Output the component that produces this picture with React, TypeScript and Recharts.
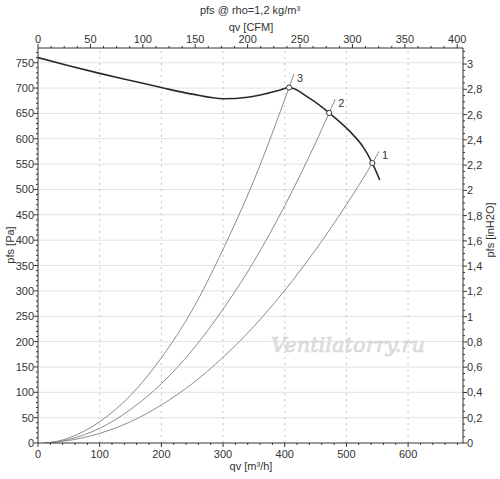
import React from "react";
import { ComposedChart, Line, Scatter, XAxis, YAxis, ReferenceLine } from "recharts";

// fan curve, qv [m³/h] -> pfs [Pa]
const fanQ = [0, 50, 100, 150, 200, 250, 300, 340, 370, 390, 407, 440, 472, 506, 527, 542, 554];
const fanP = [760, 744, 729, 715, 701, 688, 679, 682, 689, 695, 701, 680, 651, 614, 584, 552, 519];

// system curves (last point = end of the label stroke)
const sys1Q = [10, 30, 50, 100, 150, 200, 250, 300, 350, 400, 450, 500, 542, 553];
const sys1P = [0, 2, 5, 19, 42, 75, 117, 169, 230, 301, 381, 470, 552, 575];
const sys2Q = [10, 30, 50, 100, 150, 200, 250, 300, 350, 400, 450, 472, 482];
const sys2P = [0, 2, 7, 29, 66, 117, 183, 264, 358, 468, 592, 651, 678];
const sys3Q = [10, 30, 50, 100, 150, 200, 250, 300, 350, 407, 415];
const sys3P = [0, 3, 10, 42, 94, 168, 262, 382, 518, 701, 728];

const opQ = [542, 472, 407];
const opP = [552, 651, 701];
const opLabels = ["1", "2", "3"];

// axes
const qMax = 689;
const cfmMax = 405.5;
const paMax = 779;
const inMax = 3.127;
const qMajor = [0, 100, 200, 300, 400, 500, 600];
const cfmMajor = [0, 50, 100, 150, 200, 250, 300, 350, 400];
const paMajor = [0, 50, 100, 150, 200, 250, 300, 350, 400, 450, 500, 550, 600, 650, 700, 750];
const inMajor = [0, 0.2, 0.4, 0.6, 0.8, 1, 1.2, 1.4, 1.6, 1.8, 2, 2.2, 2.4, 2.6, 2.8, 3];

const TXT = "#333";
const FONT = '"Liberation Sans", Arial, sans-serif';

const toRows = (q: number[], p: number[]) => q.map((v, i) => ({ q: v, p: p[i] }));
const fanRows = toRows(fanQ, fanP);
const sysCurves = [toRows(sys1Q, sys1P), toRows(sys2Q, sys2P), toRows(sys3Q, sys3P)];
const opRows = toRows(opQ, opP);
// invisible helper so the top CFM axis has something attached to it
const cfmRows = [{ q: 0, p: 0 }, { q: cfmMax, p: 0 }];

function withMinor(step: number, max: number) {
  const out: number[] = [];
  for (let v = 0; v <= max + 1e-9; v += step) out.push(Math.round(v * 1000) / 1000);
  return out;
}

const comma = (v: number) => String(Number(v.toFixed(1))).replace(".", ",");

function makeTick(side: "bottom" | "top" | "left" | "right", majors: number[], fmt: (v: number) => string) {
  return (props: any) => {
    const { x, y, payload } = props;
    const v = payload.value;
    const major = majors.some((m) => Math.abs(m - v) < 1e-6);
    const len = major ? 4 : 2;
    let line, text = null;
    const ts = { fontSize: 11, fill: TXT, fontFamily: FONT };
    if (side === "bottom") {
      line = <line x1={x} y1={y} x2={x} y2={y + len} stroke={TXT} />;
      if (major) text = <text x={x} y={y + 15} textAnchor="middle" {...ts}>{fmt(v)}</text>;
    } else if (side === "top") {
      line = <line x1={x} y1={y} x2={x} y2={y - len} stroke={TXT} />;
      if (major) text = <text x={x} y={y - 5} textAnchor="middle" {...ts}>{fmt(v)}</text>;
    } else if (side === "left") {
      line = <line x1={x} y1={y} x2={x - len} y2={y} stroke={TXT} />;
      if (major) text = <text x={x - 4} y={y + 4} textAnchor="end" {...ts}>{fmt(v)}</text>;
    } else {
      line = <line x1={x} y1={y} x2={x + len} y2={y} stroke={TXT} />;
      if (major) text = <text x={x + 4} y={y + 4} textAnchor="start" {...ts}>{fmt(v)}</text>;
    }
    return (
      <g>
        {line}
        {text}
      </g>
    );
  };
}

const EndLabel = (label: string, last: number) => (props: any) => {
  const { x, y, index } = props;
  if (index !== last) return null;
  return (
    <text x={x + 3} y={y + 8} fontSize={11} fill={TXT} fontFamily={FONT}>
      {label}
    </text>
  );
};

const OpPoint = (props: any) => {
  const { cx, cy } = props;
  return <circle cx={cx} cy={cy} r={2.6} fill="#fff" stroke="#333" strokeWidth={1} />;
};

export default function App() {
  const axisLine = { stroke: TXT, strokeWidth: 1 };
  return (
    <div style={{ position: "absolute", left: 0, top: 0, width: 500, height: 479, background: "#fff" }}>
      <ComposedChart width={500} height={479} margin={{ top: 0, right: 0, bottom: 0, left: 0 }}>
        <XAxis
          xAxisId="q"
          dataKey="q"
          type="number"
          domain={[0, qMax]}
          allowDataOverflow
          ticks={withMinor(20, qMax)}
          interval={0}
          height={36}
          tickSize={0}
          tickMargin={0}
          axisLine={axisLine}
          tickLine={false}
          tick={makeTick("bottom", qMajor, (v) => String(v))}
        />
        <XAxis
          xAxisId="cfm"
          dataKey="q"
          orientation="top"
          type="number"
          domain={[0, cfmMax]}
          allowDataOverflow
          ticks={withMinor(12.5, cfmMax)}
          interval={0}
          height={48}
          tickSize={0}
          tickMargin={0}
          axisLine={axisLine}
          tickLine={false}
          tick={makeTick("top", cfmMajor, (v) => String(v))}
        />
        <YAxis
          yAxisId="pa"
          type="number"
          domain={[0, paMax]}
          allowDataOverflow
          ticks={withMinor(10, paMax)}
          interval={0}
          width={38}
          tickSize={0}
          tickMargin={0}
          axisLine={axisLine}
          tickLine={false}
          tick={makeTick("left", paMajor, (v) => String(v))}
        />
        <YAxis
          yAxisId="in"
          orientation="right"
          type="number"
          domain={[0, inMax]}
          allowDataOverflow
          ticks={withMinor(0.05, inMax)}
          interval={0}
          width={37}
          tickSize={0}
          tickMargin={0}
          axisLine={axisLine}
          tickLine={false}
          tick={makeTick("right", inMajor, comma)}
        />
        {paMajor.slice(1).map((v) => (
          <ReferenceLine key={"h" + v} xAxisId="q" yAxisId="pa" y={v} stroke="#e2e2e2" strokeWidth={1} />
        ))}
        {qMajor.slice(1).map((v) => (
          <ReferenceLine key={"v" + v} xAxisId="q" yAxisId="pa" x={v} stroke="#c4c4c4" strokeDasharray="2 4" />
        ))}
        <Line
          xAxisId="cfm"
          yAxisId="pa"
          data={cfmRows}
          dataKey="p"
          stroke="none"
          dot={false}
          activeDot={false}
          isAnimationActive={false}
        />
        {sysCurves.map((rows, i) => (
          <Line
            key={"s" + i}
            xAxisId="q"
            yAxisId="pa"
            data={rows}
            dataKey="p"
            type="monotone"
            stroke="#8c8c8c"
            strokeWidth={1}
            dot={false}
            activeDot={false}
            isAnimationActive={false}
            label={EndLabel(opLabels[i], rows.length - 1)}
          />
        ))}
        <Line
          xAxisId="q"
          yAxisId="pa"
          data={fanRows}
          dataKey="p"
          type="monotone"
          stroke="#2a2a2a"
          strokeWidth={1.6}
          dot={false}
          activeDot={false}
          isAnimationActive={false}
        />
        <Scatter
          xAxisId="q"
          yAxisId="pa"
          data={opRows}
          dataKey="p"
          shape={OpPoint}
          isAnimationActive={false}
        />
      </ComposedChart>
      <svg
        width={500}
        height={479}
        style={{ position: "absolute", left: 0, top: 0, pointerEvents: "none" }}
      >
        <g fontFamily={FONT} fontSize={11} fill={TXT}>
          <text x={250} y={14} textAnchor="middle">pfs @ rho=1,2 kg/m³</text>
          <text x={251} y={31} textAnchor="middle">qv [CFM]</text>
          <text x={251} y={470} textAnchor="middle">qv [m³/h]</text>
          <text transform="translate(14,245) rotate(-90)" textAnchor="middle">pfs [Pa]</text>
          <text transform="translate(494,230) rotate(-90)" textAnchor="middle">pfs [inH2O]</text>
        </g>
        <text
          x={348}
          y={352}
          textAnchor="middle"
          fontFamily='"DejaVu Serif", "Liberation Serif", serif'
          fontStyle="italic"
          fontSize={21}
          fill="#e6e6e6"
          stroke="#cfcfcf"
          strokeWidth={0.6}
        >
          Ventilatorry.ru
        </text>
      </svg>
    </div>
  );
}
